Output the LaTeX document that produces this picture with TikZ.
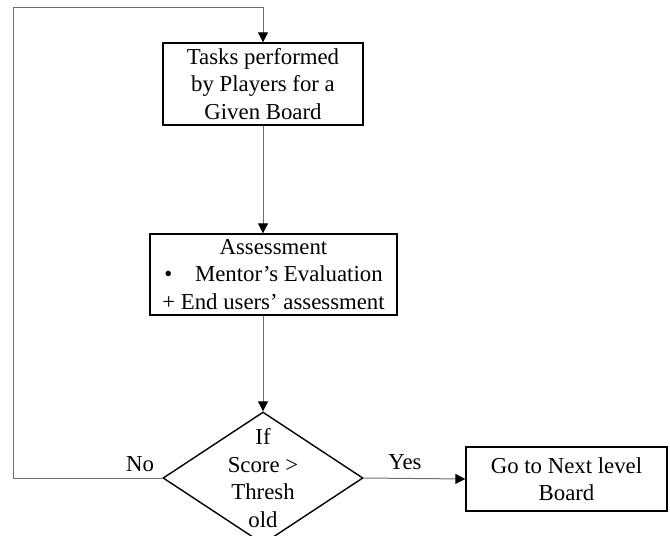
\documentclass[tikz,border=0pt]{standalone}
\usepackage{fontspec}
\setmainfont{Liberation Serif}
\usepackage{xcolor}
\usetikzlibrary{positioning,calc,arrows.meta,shapes.geometric}
\definecolor{linkgray}{HTML}{6E6E6E}
\tikzset{
  stepbox/.style={draw=black, line width=1.4pt, align=center, inner sep=0pt,
                  font=\fontsize{22.8}{27.6}\selectfont},
  link/.style={draw=linkgray, line width=1pt, -{Triangle[length=10pt,width=10pt,color=black]}},
  tag/.style={font=\fontsize{22.8}{27.6}\selectfont}
}

\begin{document}
\begin{tikzpicture}[x=1pt,y=-1pt]
\useasboundingbox (0,0) rectangle (670,536);

\node[stepbox, minimum width=200pt, minimum height=82pt] (tasks) at (263,84) {Tasks performed\\by Players for a\\Given Board};
\node[stepbox, minimum width=247pt, minimum height=81pt] (assess) at (273.5,274.5) {Assessment\\\textbullet\quad Mentor’s Evaluation\\+ End users’ assessment};
\node[diamond, draw=black, line width=1.4pt, minimum width=200pt, minimum height=132pt, inner sep=0pt] (dec) at (263,478) {};
\node[tag, align=center] (dectext) at (dec.center) {If\\Score >\\Thresh\\old};
\node[stepbox, minimum width=201pt, minimum height=64pt] (next) at (566.5,479) {Go to Next level\\Board};

\coordinate (loopbot) at (13,478);
\coordinate (looptop) at (13,7);

\draw[link] (tasks.south) -- (tasks.south |- assess.north);
\draw[link] (dec.north |- assess.south) -- (dec.north);
\draw[link] (dec.east) -- (next.west);
\draw[link] (dec.west) -- (loopbot) -- (looptop) -| (tasks.north);

\node[tag] (yes) at (405,462) {Yes};
\node[tag] (no) at (140,464) {No};
\end{tikzpicture}
\end{document}
